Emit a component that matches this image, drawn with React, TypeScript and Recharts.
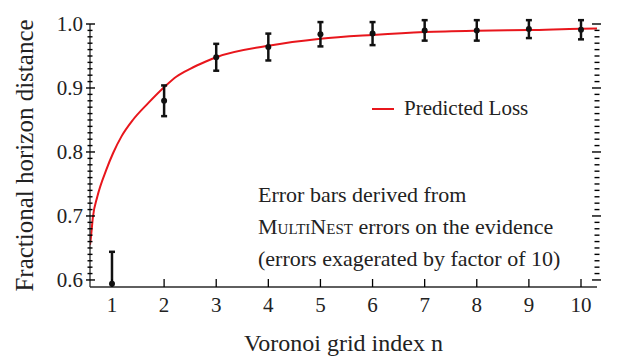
import React from 'react';
import {
  ComposedChart, Line, Scatter, ErrorBar, XAxis, YAxis, Legend, Customized, ReferenceDot,
} from 'recharts';

// Voronoi grid index n and the measured fractional horizon distance
const gridIndex = [1, 2, 3, 4, 5, 6, 7, 8, 9, 10];
const measured = [0.594, 0.88, 0.948, 0.964, 0.984, 0.985, 0.99, 0.99, 0.992, 0.991];
const errors = [0.05, 0.024, 0.021, 0.021, 0.019, 0.018, 0.016, 0.016, 0.014, 0.015];

// predicted loss curve
const curveN = [0.578, 0.59, 0.635, 0.718, 0.89, 1.02, 1.18, 1.4, 1.69, 2.01, 2.24, 2.5, 2.79, 3, 4, 5, 6, 7, 8, 9, 10, 10.307];
const curveLoss = [0.655, 0.6625, 0.699, 0.73, 0.772, 0.798, 0.824, 0.85, 0.876, 0.902, 0.918, 0.93, 0.941, 0.948, 0.966, 0.977, 0.983, 0.9875, 0.9896, 0.9906, 0.9927, 0.993];

const X_MIN = 0.578;
const X_MAX = 10.307;
const Y_MIN = 0.589;
const Y_MAX = 1.0;

const xTicks = [1, 2, 3, 4, 5, 6, 7, 8, 9, 10];
const yMajor = [0.6, 0.7, 0.8, 0.9, 1.0];
const yMinor: number[] = [];
for (let i = 61; i < 100; i++) if (i % 10 !== 0) yMinor.push(i / 100);

const points = gridIndex.map((n, i) => ({ n, y: measured[i], err: errors[i] }));
const curve = curveN.map((n, i) => ({ n, loss: curveLoss[i] }));

const FONT = '"Liberation Serif", "DejaVu Serif", "Noto Serif", "Open Sans", sans-serif';
const INK = '#222';
const AXIS = '#2a2a2a';
const TICK = '#000';

const YLabel = (props: any) => (
  <text x={Number(props.x) - 7} y={props.y} dy="0.35em" textAnchor="end" fontFamily={FONT} fontSize={21} fill={INK}>
    {Number(props.payload.value).toFixed(1)}
  </text>
);

const XLabel = (props: any) => (
  <text x={props.x} y={Number(props.y) + 18} dy="0.35em" textAnchor="middle" fontFamily={FONT} fontSize={21} fill={INK}>
    {props.payload.value}
  </text>
);

// tick marks drawn at the positions the axis scales give
const hTick = (left: number, right: number) => (p: any) => (
  <line x1={p.cx - left} x2={p.cx + right} y1={p.cy} y2={p.cy} stroke={TICK} strokeWidth={1.4} />
);
const vTick = (p: any) => <line x1={p.cx} x2={p.cx} y1={p.cy - 8} y2={p.cy} stroke={TICK} strokeWidth={1.3} />;

const Dot = ({ cx, cy }: any) => <circle cx={cx} cy={cy} r={3} fill="#111" />;

const LegendContent = () => (
  <div style={{ display: 'flex', alignItems: 'center', fontFamily: FONT, fontSize: 21, color: INK, whiteSpace: 'nowrap' }}>
    <span style={{ display: 'inline-block', width: 22, height: 2, background: '#e8161c', marginRight: 10 }} />
    Predicted Loss
  </div>
);

// clip region for the error bars: plot area, open at the top
const ClipDefs = () => (
  <defs>
    <clipPath id="errClip">
      <rect x={80} y={0} width={530} height={287} />
    </clipPath>
  </defs>
);

const Annotation = () => (
  <g fontFamily={FONT} fontSize={22} fill={INK}>
    <text x={258} y={194} dy="0.35em">Error bars derived from</text>
    <text x={258} y={226} dy="0.35em">
      <tspan style={{ fontVariant: 'small-caps' }}>MultiNest</tspan> errors on the evidence
    </text>
    <text x={258} y={258} dy="0.35em">(errors exagerated by factor of 10)</text>
  </g>
);

const ids = { xAxisId: 'bottom', yAxisId: 'left', ifOverflow: 'visible' as const };
const axisLine = { stroke: AXIS, strokeWidth: 1.3 };

export default function App() {
  return (
    <div style={{ position: 'absolute', left: 0, top: 0, background: '#fff' }}>
      <ComposedChart width={620} height={361} margin={{ top: 24, right: 23, bottom: 0, left: 0 }}>
        <Customized component={ClipDefs} />
        <XAxis
          xAxisId="bottom"
          dataKey="n"
          type="number"
          domain={[X_MIN, X_MAX]}
          ticks={xTicks}
          interval={0}
          tickSize={0}
          tickMargin={0}
          tickLine={false}
          tick={<XLabel />}
          height={74}
          axisLine={axisLine}
          allowDataOverflow
          label={{ value: 'Voronoi grid index n', position: 'insideBottom', offset: 10, fontFamily: FONT, fontSize: 24, fill: INK }}
        />
        <XAxis xAxisId="top" orientation="top" type="number" domain={[X_MIN, X_MAX]} tick={false} tickLine={false} height={0} axisLine={axisLine} />
        <YAxis
          yAxisId="left"
          type="number"
          domain={[Y_MIN, Y_MAX]}
          ticks={yMajor}
          interval={0}
          tickSize={0}
          tickMargin={0}
          tickLine={false}
          tick={<YLabel />}
          width={90}
          axisLine={axisLine}
          allowDataOverflow
          label={{ value: 'Fractional horizon distance', angle: -90, position: 'insideLeft', offset: 24, fontFamily: FONT, fontSize: 25, fill: INK, style: { textAnchor: 'middle' } }}
        />
        <YAxis yAxisId="right" orientation="right" type="number" domain={[Y_MIN, Y_MAX]} tick={false} tickLine={false} width={0} axisLine={axisLine} />

        {yMajor.map((v) => (
          <ReferenceDot key={`lM${v}`} {...ids} x={X_MIN} y={v} shape={hTick(4, 5)} />
        ))}
        {yMinor.map((v) => (
          <ReferenceDot key={`lm${v}`} {...ids} x={X_MIN} y={v} shape={hTick(2.5, 2.5)} />
        ))}
        {yMajor.map((v) => (
          <ReferenceDot key={`rM${v}`} {...ids} x={X_MAX} y={v} shape={hTick(5, 4)} />
        ))}
        {yMinor.map((v) => (
          <ReferenceDot key={`rm${v}`} {...ids} x={X_MAX} y={v} shape={hTick(2.5, 2.5)} />
        ))}
        {xTicks.map((v) => (
          <ReferenceDot key={`b${v}`} {...ids} x={v} y={Y_MIN} shape={vTick} />
        ))}

        <Line
          xAxisId="bottom"
          yAxisId="left"
          data={curve}
          dataKey="loss"
          type="monotone"
          stroke="#e8161c"
          strokeWidth={2}
          dot={false}
          isAnimationActive={false}
          name="Predicted Loss"
        />
        <Scatter
          xAxisId="bottom"
          yAxisId="left"
          data={points}
          dataKey="y"
          shape={<Dot />}
          isAnimationActive={false}
          legendType="none"
        >
          <ErrorBar dataKey="err" direction="y" width={3} stroke="#111" strokeWidth={2.5} clipPath="url(#errClip)" isAnimationActive={false} />
        </Scatter>
        <Legend
          layout="horizontal"
          verticalAlign="middle"
          align="center"
          content={<LegendContent />}
          wrapperStyle={{ top: 96, left: 372, width: 'auto', height: 24 }}
        />
        <Customized component={Annotation} />
      </ComposedChart>
    </div>
  );
}
